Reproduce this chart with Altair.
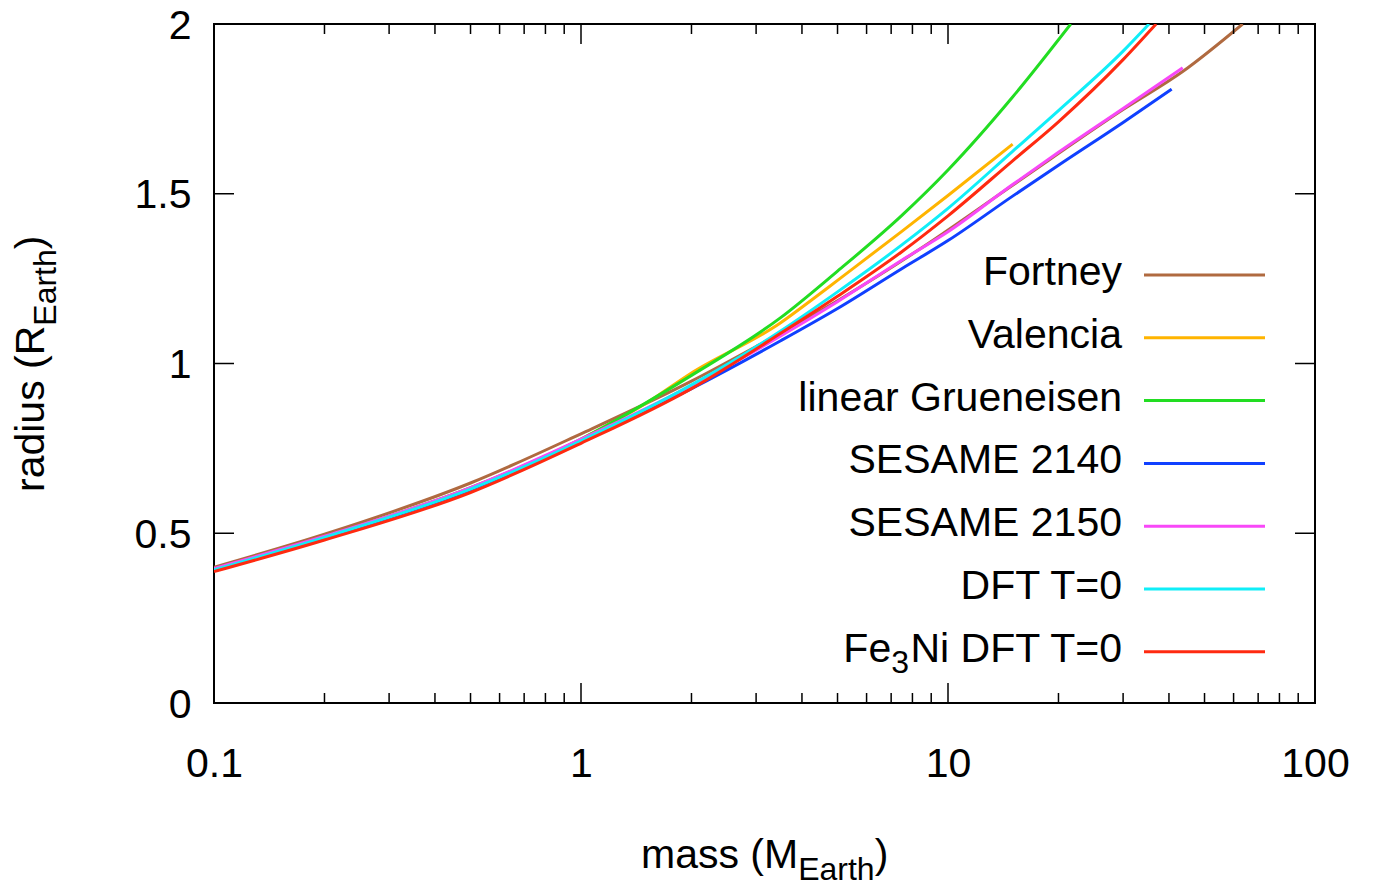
import altair as alt
import pandas as pd

FONT = "Liberation Sans"

# ---------------- data ----------------
series = ["Fortney", "Valencia", "linear Grueneisen", "SESAME 2140",
          "SESAME 2150", "DFT T=0", "Fe3Ni DFT T=0"]
colors = ["#b06a40", "#ffb400", "#22dd22", "#1040ff", "#f848f8", "#10eef8", "#ff2a10"]

fortney_m = [0.1, 0.2, 0.5, 1.0, 2.0, 3.0, 5.0, 8.3, 15, 30, 43.6, 63.5]
fortney_r = [0.400, 0.497, 0.648, 0.793, 0.948, 1.050, 1.185, 1.334, 1.525, 1.748, 1.860, 2.0]

valencia_m = [1.0, 1.5, 2.0, 3.5, 4.25, 5.0, 7.5, 10, 15]
valencia_r = [0.777, 0.882, 0.972, 1.120, 1.187, 1.245, 1.390, 1.495, 1.646]

grun_m = [0.1, 0.2, 0.5, 1.0, 2.0, 3.5, 5.0, 7.5, 10, 15, 21.6]
grun_r = [0.393, 0.490, 0.634, 0.777, 0.965, 1.135, 1.272, 1.437, 1.570, 1.785, 2.0]

s2140_m = [0.1, 0.2, 0.5, 1.0, 2.0, 3.5, 5.0, 7.5, 10, 15, 20, 30, 40.7]
s2140_r = [0.393, 0.487, 0.628, 0.770, 0.926, 1.067, 1.162, 1.280, 1.362, 1.493, 1.584, 1.710, 1.808]

s2150_m = [0.1, 0.2, 0.5, 1.0, 2.0, 3.5, 5.0, 7.5, 10, 15, 20, 30, 43.6]
s2150_r = [0.396, 0.491, 0.634, 0.777, 0.935, 1.081, 1.182, 1.305, 1.388, 1.527, 1.622, 1.751, 1.871]

dft_m = [0.1, 0.2, 0.5, 1.0, 2.0, 3.5, 5.0, 7.5, 10, 15, 20, 30, 35.3]
dft_r = [0.392, 0.488, 0.630, 0.772, 0.937, 1.096, 1.211, 1.350, 1.457, 1.625, 1.745, 1.920, 2.0]

fe3ni_m = [0.1, 0.2, 0.5, 1.0, 2.0, 3.5, 5.0, 7.5, 10, 15, 20, 30, 36.9]
fe3ni_r = [0.387, 0.480, 0.620, 0.765, 0.926, 1.089, 1.198, 1.330, 1.435, 1.597, 1.712, 1.895, 2.0]

x_major = [0.1, 1, 10, 100]
x_minor = [0.2, 0.3, 0.4, 0.5, 0.6, 0.7, 0.8, 0.9,
           2, 3, 4, 5, 6, 7, 8, 9,
           20, 30, 40, 50, 60, 70, 80, 90]
y_major = [0, 0.5, 1, 1.5, 2]

curve_data = [(fortney_m, fortney_r), (valencia_m, valencia_r), (grun_m, grun_r),
              (s2140_m, s2140_r), (s2150_m, s2150_r), (dft_m, dft_r), (fe3ni_m, fe3ni_r)]

# ---------------- layout ----------------
W, H = 1101, 679
LW = 3
MAIN_FS, SUB_FS = 41, 32

xs = alt.Scale(type="log", domain=[0.1, 100], nice=False)
ys = alt.Scale(domain=[0, 2], nice=False, zero=False)
cs = alt.Scale(domain=series, range=colors)

xaxis = alt.Axis(values=x_major, format="~g", labelFont=FONT, labelFontSize=MAIN_FS,
                 labelColor="black", labelPadding=41, ticks=False, tickSize=0,
                 domain=False, grid=False, title=None, labelFlush=False,
                 labelOverlap=False)
yaxis = alt.Axis(values=y_major, format="~g", labelFont=FONT, labelFontSize=MAIN_FS,
                 labelColor="black", labelPadding=23, ticks=False, tickSize=0,
                 labelOffset=2, domain=False, grid=False, title=None,
                 labelFlush=False, labelOverlap=False)

layers = []

# curves (drawn in legend order, later ones on top)
for name, (ms, rs) in zip(series, curve_data):
    df = pd.DataFrame({"M": ms, "r": rs, "series": name})
    layers.append(
        alt.Chart(df).mark_line(strokeWidth=LW, clip=True, interpolate="monotone").encode(
            x=alt.X("M:Q", scale=xs, axis=xaxis),
            y=alt.Y("r:Q", scale=ys, axis=yaxis),
            color=alt.Color("series:N", scale=cs, legend=None),
        )
    )

# inward ticks on all four sides
tick_style = dict(color="black", strokeWidth=1.5)
xmaj = pd.DataFrame({"v": x_major})
xmin = pd.DataFrame({"v": x_minor})
ymaj = pd.DataFrame({"v": y_major})
for data, length in ((xmaj, 20), (xmin, 10)):
    layers.append(alt.Chart(data).mark_rule(**tick_style).encode(
        x=alt.X("v:Q", scale=xs, axis=xaxis), y=alt.value(H), y2=alt.value(H - length)))
    layers.append(alt.Chart(data).mark_rule(**tick_style).encode(
        x=alt.X("v:Q", scale=xs, axis=xaxis), y=alt.value(0), y2=alt.value(length)))
layers.append(alt.Chart(ymaj).mark_rule(**tick_style).encode(
    y=alt.Y("v:Q", scale=ys, axis=yaxis), x=alt.value(0), x2=alt.value(20)))
layers.append(alt.Chart(ymaj).mark_rule(**tick_style).encode(
    y=alt.Y("v:Q", scale=ys, axis=yaxis), x=alt.value(W), x2=alt.value(W - 20)))

# legend (labels on the left of line samples, inside the plot)
LEG_Y0, LEG_DY = 251, 62.8
LEG_TX = 908
LEG_X1, LEG_X2 = 930, 1051


def char_w(s, fs):
    # Arial / Liberation Sans advance widths (em units)
    w = {"N": .722, "i": .222, " ": .278, "D": .722, "F": .611, "T": .611,
         "=": .584, "0": .556, "3": .556, "e": .556}
    return sum(w[c] for c in s) * fs


for i, name in enumerate(series):
    yy = LEG_Y0 + i * LEG_DY
    row = pd.DataFrame({"series": [name]})
    layers.append(alt.Chart(row).mark_rule(strokeWidth=LW).encode(
        x=alt.value(LEG_X1), x2=alt.value(LEG_X2), y=alt.value(yy),
        color=alt.Color("series:N", scale=cs, legend=None)))
    txt = dict(align="right", baseline="alphabetic", font=FONT, color="black")
    if name.startswith("Fe3Ni"):
        rest = "Ni DFT T=0"
        x_rest = LEG_TX
        x_sub = x_rest - char_w(rest, MAIN_FS)
        x_fe = x_sub - char_w("3", SUB_FS)
        parts = [("Fe", x_fe, yy + 10, MAIN_FS), ("3", x_sub, yy + 21, SUB_FS),
                 (rest, x_rest, yy + 10, MAIN_FS)]
        for t, px, py, fs in parts:
            layers.append(alt.Chart(pd.DataFrame({"t": [t]})).mark_text(fontSize=fs, **txt).encode(
                text="t:N", x=alt.value(px), y=alt.value(py)))
    else:
        layers.append(alt.Chart(pd.DataFrame({"t": [name]})).mark_text(fontSize=MAIN_FS, **txt).encode(
            text="t:N", x=alt.value(LEG_TX), y=alt.value(yy + 10)))


# axis titles with subscripts
def text_layer(t, px, py, fs, align="left", angle=0):
    return alt.Chart(pd.DataFrame({"t": [t]})).mark_text(
        align=align, baseline="alphabetic", font=FONT, fontSize=fs, color="black",
        angle=angle).encode(text="t:N", x=alt.value(px), y=alt.value(py))


# x title: "mass (M_Earth)"
w1 = 3.833 * MAIN_FS
w2 = 2.39 * SUB_FS
xt_start = 641 - 214
xt_base = 868 - 24
layers.append(text_layer("mass (M", xt_start, xt_base, MAIN_FS))
layers.append(text_layer("Earth", xt_start + w1, xt_base + 12, SUB_FS))
layers.append(text_layer(")", xt_start + w1 + w2, xt_base, MAIN_FS))

# y title: "radius (R_Earth)" rotated
v1 = 4.056 * MAIN_FS
yt_base = 44 - 214
yt_start = 492 - 24
layers.append(text_layer("radius (R", yt_base, yt_start, MAIN_FS, angle=270))
layers.append(text_layer("Earth", yt_base + 12, yt_start - v1, SUB_FS, angle=270))
layers.append(text_layer(")", yt_base, yt_start - v1 - w2, MAIN_FS, angle=270))

chart = alt.layer(*layers).properties(
    width=W, height=H,
    autosize=alt.AutoSizeParams(type="none"),
    padding={"left": 206, "top": 16, "right": 50, "bottom": 185},
    background="white",
).configure_view(stroke="black", strokeWidth=2)

chart.save("out.html", embed_options={"renderer": "svg", "actions": False})
